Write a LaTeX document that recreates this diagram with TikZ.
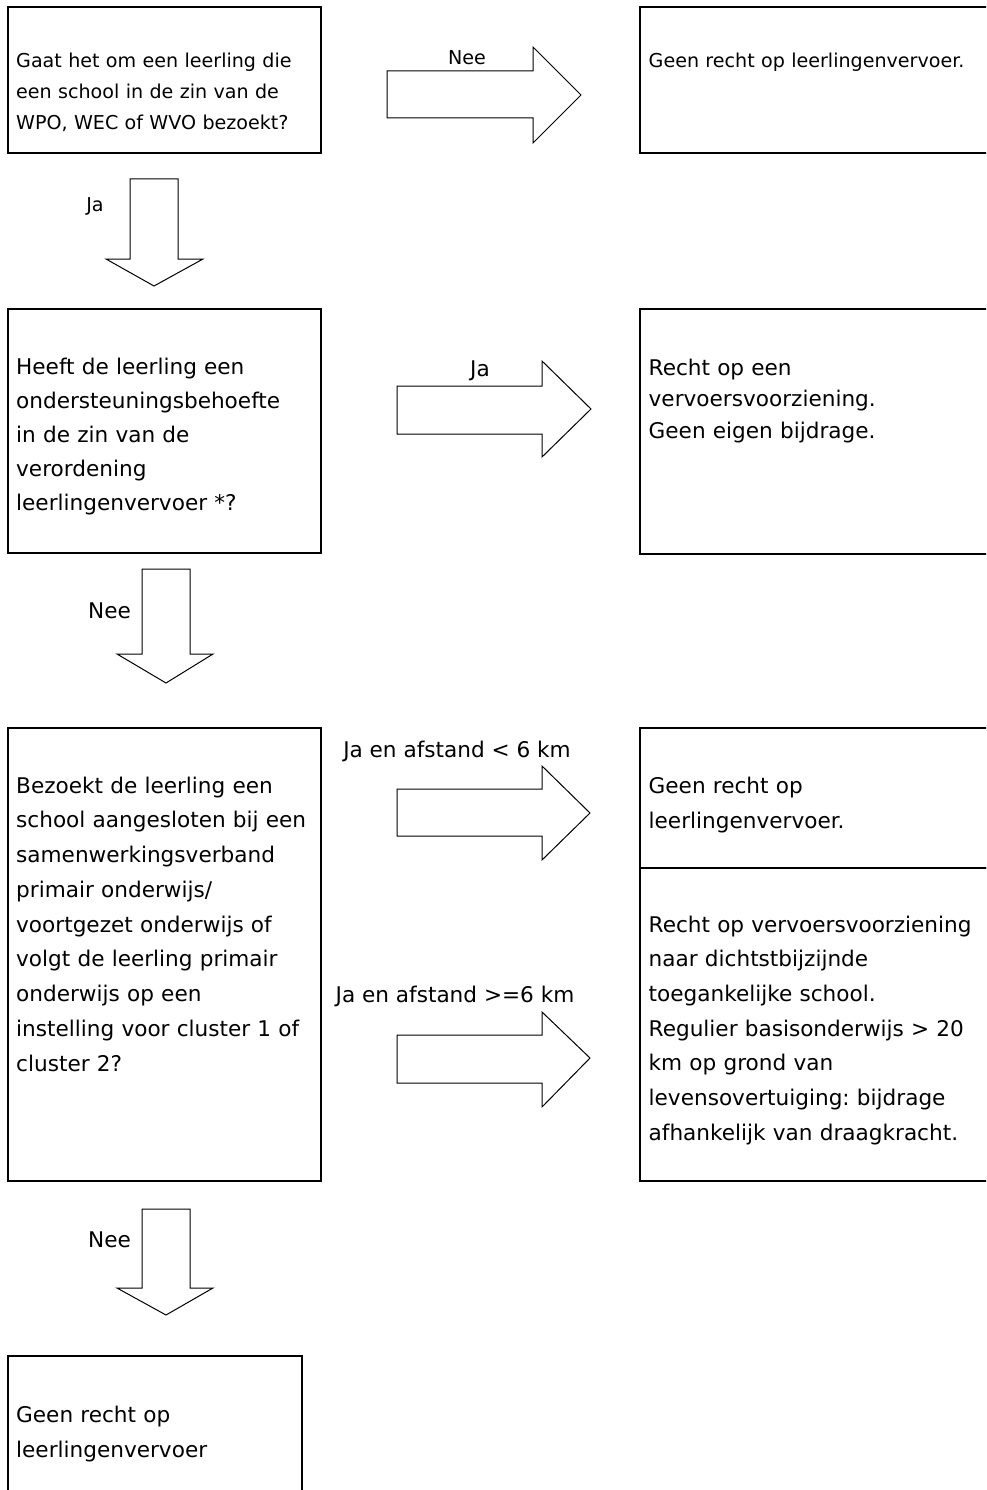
\documentclass[tikz,border=0pt]{standalone}
\usepackage{fontspec}
\setmainfont{DejaVu Sans}
\frenchspacing
\begin{document}
\begin{tikzpicture}[x=1pt,y=-1pt,
  box/.style={draw=black, line width=2pt, rectangle, inner sep=0pt, outer sep=0pt, anchor=north west},
  big/.style={font=\fontsize{21.6}{#1}\selectfont, align=left, text width=340pt, anchor=base west, inner sep=0pt},
  big/.default=34.6,
  small/.style={font=\fontsize{19.1}{#1}\selectfont, align=left, text width=340pt, anchor=base west, inner sep=0pt},
  small/.default=30.7,
  biglab/.style={font=\fontsize{21.6}{26}\selectfont, anchor=base, inner sep=0pt},
  smalllab/.style={font=\fontsize{19.1}{23}\selectfont, anchor=base, inner sep=0pt},
  barrow/.style={draw=black, line width=1pt, line join=miter, fill=white}]
\useasboundingbox (0,0) rectangle (986,1490);
\clip (0,0) rectangle (986,1490);

% boxes
\node[box, minimum width=313pt, minimum height=146pt] (b1) at (8,7) {};
\node[box, minimum width=360pt, minimum height=146pt] (b2) at (640,7) {};
\node[box, minimum width=313pt, minimum height=244pt] (b3) at (8,309) {};
\node[box, minimum width=360pt, minimum height=245pt] (b4) at (640,309) {};
\node[box, minimum width=313pt, minimum height=453pt] (b5) at (8,728) {};
\node[box, minimum width=360pt, minimum height=140pt] (b6) at (640,728) {};
\node[box, minimum width=360pt, minimum height=313pt] (b7) at (640,868) {};
\node[box, minimum width=294pt, minimum height=160pt] (b8) at (8,1356) {};

% texts
\node[small] (t1) at (16,67.7) {Gaat het om een leerling die\\een school in de zin van de\\WPO, WEC of WVO bezoekt?};
\node[small] (t2) at (648.5,68) {Geen recht op leerlingenvervoer.};
\node[big=34.2] (t3) at (16,374) {Heeft de leerling een\\ondersteuningsbehoefte\\in de zin van de\\verordening\\leerlingenvervoer *?};
\node[big=31.7] (t4) at (648.5,375) {Recht op een\\vervoersvoorziening.\\Geen eigen bijdrage.};
\node[big=34.75] (t5) at (16,793) {Bezoekt de leerling een\\school aangesloten bij een\\samenwerkingsverband\\primair onderwijs/\\voortgezet onderwijs of\\volgt de leerling primair\\onderwijs op een\\instelling voor cluster 1 of\\cluster 2?};
\node[big=35] (t6) at (648.5,793) {Geen recht op\\leerlingenvervoer.};
\node[big=34.7] (t7) at (648.5,932) {Recht op vervoersvoorziening\\naar dichtstbijzijnde\\toegankelijke school.\\Regulier basisonderwijs > 20\\km op grond van\\levensovertuiging: bijdrage\\afhankelijk van draagkracht.};
\node[big=35] (t8) at (16,1422) {Geen recht op\\leerlingenvervoer};

% right block arrows
\draw[barrow] (387,71) -- (533,71) -- (533,47) -- (581,95) -- (533,143) -- (533,118) -- (387,118) -- cycle;
\draw[barrow] (397,386) -- (542,386) -- (542,361) -- (591,409) -- (542,457) -- (542,434) -- (397,434) -- cycle;
\draw[barrow] (397,789) -- (542,789) -- (542,766) -- (590,813) -- (542,860) -- (542,836) -- (397,836) -- cycle;
\draw[barrow] (397,1035) -- (542,1035) -- (542,1012) -- (590,1058) -- (542,1107) -- (542,1083) -- (397,1083) -- cycle;

% down block arrows
\draw[barrow] (130,179) -- (178,179) -- (178,259) -- (203,259) -- (154,286) -- (106,259) -- (130,259) -- cycle;
\draw[barrow] (142,569) -- (190,569) -- (190,654) -- (213,654) -- (166,683) -- (117,654) -- (142,654) -- cycle;
\draw[barrow] (142,1209) -- (190,1209) -- (190,1288) -- (213,1288) -- (166,1315) -- (117,1288) -- (142,1288) -- cycle;

% labels
\node[smalllab] (l1) at (467,65) {Nee};
\node[smalllab] (l2) at (95,211.7) {Ja};
\node[biglab] (l3) at (480,376) {Ja};
\node[biglab] (l4) at (109.5,618) {Nee};
\node[biglab] (l5) at (457,757) {Ja en afstand < 6 km};
\node[biglab] (l6) at (455,1002) {Ja en afstand >=6 km};
\node[biglab] (l7) at (109.5,1247) {Nee};
\end{tikzpicture}
\end{document}
